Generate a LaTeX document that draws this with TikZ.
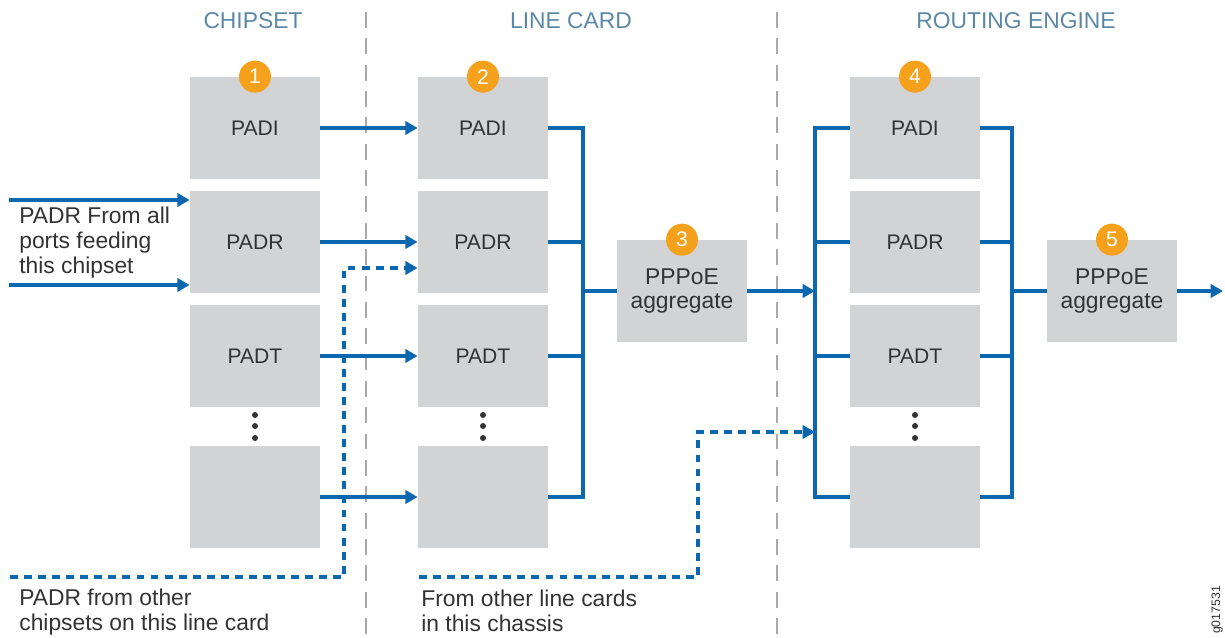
\documentclass[tikz,border=0pt]{standalone}
\usepackage{fontspec}
\setmainfont{Liberation Sans}
\usetikzlibrary{arrows.meta}
\definecolor{jblue}{HTML}{0B67AE}
\definecolor{jgray}{HTML}{D1D3D4}
\definecolor{jorange}{HTML}{F5A11C}
\definecolor{jhead}{HTML}{5C88A8}
\definecolor{jtext}{HTML}{333333}
\definecolor{jsep}{HTML}{A7A9AC}
\begin{document}
\begin{tikzpicture}[x=0.02cm, y=-0.02cm,
  box/.style={fill=jgray, minimum width=2.6cm, minimum height=2.04cm, inner sep=0pt, text=jtext, font=\fontsize{12}{14}\selectfont},
  agg/.style={box, align=center, font=\fontsize{13}{14.2}\selectfont},
  badge/.style={circle, fill=jorange, minimum size=0.64cm, inner sep=0pt, text=white, font=\fontsize{12}{12}\selectfont},
  head/.style={text=jhead, font=\fontsize{13}{13}\selectfont},
  note/.style={text=jtext, align=left, anchor=west, inner sep=0pt, font=\fontsize{13}{14.2}\selectfont},
  wire/.style={line width=1.8pt, draw=jblue},
  arrow/.style={wire, -{Triangle[length=7pt,width=7.5pt]}},
  dasharrow/.style={arrow, dash pattern=on 4.5pt off 3.5pt},
  sep/.style={draw=jsep, line width=0.9pt, dash pattern=on 9pt off 6pt}
]
\useasboundingbox (0,0) rectangle (1225,638);

% column headers and separators
\node[head] (hchip) at (253,21) {CHIPSET};
\node[head] (hcard) at (571,21) {LINE CARD};
\node[head] (hre) at (1016,21) {ROUTING ENGINE};
\draw[sep] (366,12) -- (366,638);
\draw[sep] (777,12) -- (777,638);

% chipset
\node[box] (c1) at (255,128) {PADI};
\node[box] (c2) at (255,242) {PADR};
\node[box] (c3) at (255,356) {PADT};
\node[box] (c4) at (255,497) {};
% line card
\node[box] (l1) at (483,128) {PADI};
\node[box] (l2) at (483,242) {PADR};
\node[box] (l3) at (483,356) {PADT};
\node[box] (l4) at (483,497) {};
\node[agg] (agg3) at (682,291) {PPPoE\\aggregate};
% routing engine
\node[box] (r1) at (915,128) {PADI};
\node[box] (r2) at (915,242) {PADR};
\node[box] (r3) at (915,356) {PADT};
\node[box] (r4) at (915,497) {};
\node[agg] (agg5) at (1112,291) {PPPoE\\aggregate};

\foreach \x in {255,483,915}
  \foreach \y in {415,426,438}
    \fill[jtext] (\x,\y) circle[radius=0.06cm];

\node[badge] (b1) at (c1.north) {1};
\node[badge] (b2) at (l1.north) {2};
\node[badge] (b3) at (agg3.north) {3};
\node[badge] (b4) at (r1.north) {4};
\node[badge] (b5) at (agg5.north) {5};

% inputs
\coordinate (in1) at (9,200);
\coordinate (in2) at (9,285);
\draw[arrow] (in1) -- (in1 -| c2.west);
\draw[arrow] (in2) -- (in2 -| c2.west);
\node[note] (tin) at (19,243) {PADR From all\\ports feeding\\this chipset};

\draw[arrow] (c1) -- (l1);
\draw[arrow] (c2) -- (l2);
\draw[arrow] (c3) -- (l3);
\draw[arrow] (c4) -- (l4);

% line card bus
\coordinate (lbus) at (583,0);
\draw[wire] (l1.east) -- (lbus |- l1.east) -- (lbus |- l4.east) -- (l4.east);
\draw[wire] (l2.east) -- (lbus |- l2.east);
\draw[wire] (l3.east) -- (lbus |- l3.east);
\draw[wire] (lbus |- agg3) -- (agg3.west);

% routing engine buses
\coordinate (rbus) at (815,0);
\coordinate (rbus2) at (1012,0);
\draw[arrow] (agg3.east) -- (rbus |- agg3);
\draw[wire] (r1.west) -- (rbus |- r1.west) -- (rbus |- r4.west) -- (r4.west);
\draw[wire] (r2.west) -- (rbus |- r2.west);
\draw[wire] (r3.west) -- (rbus |- r3.west);
\draw[wire] (r1.east) -- (rbus2 |- r1.east) -- (rbus2 |- r4.east) -- (r4.east);
\draw[wire] (r2.east) -- (rbus2 |- r2.east);
\draw[wire] (r3.east) -- (rbus2 |- r3.east);
\draw[wire] (rbus2 |- agg5) -- (agg5.west);
\coordinate (out) at (1223,291);
\draw[arrow] (agg5) -- (out);

% other sources
\coordinate (dsrc1) at (10,577);
\coordinate (dturn1) at (344,268);
\draw[dasharrow] (dsrc1) -| (dturn1) -- (dturn1 -| l2.west);
\node[note] (tchips) at (19,612) {PADR from other\\chipsets on this line card};
\coordinate (dsrc2) at (419,577);
\coordinate (dturn2) at (698,432);
\draw[dasharrow] (dsrc2) -| (dturn2) -- (dturn2 -| rbus);
\node[note] (tcards) at (421,611) {From other line cards\\in this chassis};

\node[rotate=90, text=jtext, font=\fontsize{7}{7}\selectfont] (gid) at (1217,610) {g017531};
\end{tikzpicture}
\end{document}
